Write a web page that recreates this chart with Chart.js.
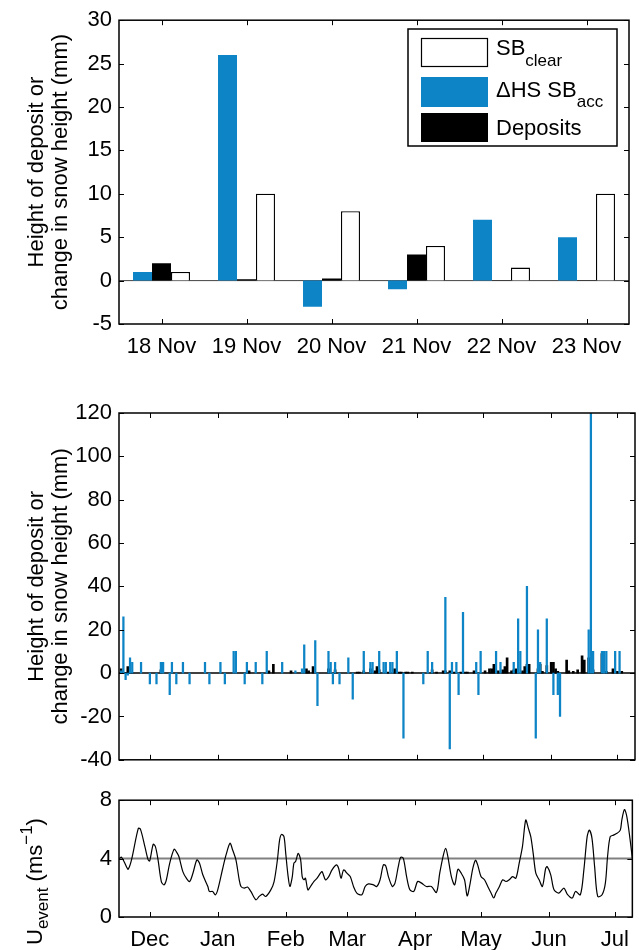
<!DOCTYPE html>
<html>
<head>
<meta charset="utf-8">
<script src="https://cdn.jsdelivr.net/npm/chart.js@4.4.0/dist/chart.umd.min.js"></script>
<style>
  body { margin: 0; background: #fff; width: 639px; height: 950px; position: relative; overflow: hidden; }
  canvas { position: absolute; left: 0; }
</style>
</head>
<body>
<canvas id="daily" width="639" height="370" style="top:0"></canvas>
<canvas id="season" width="639" height="400" style="top:380px"></canvas>
<canvas id="wind" width="639" height="170" style="top:780px"></canvas>
<script>
// --- six-day comparison (mm)
const dayLabels = ["18 Nov", "19 Nov", "20 Nov", "21 Nov", "22 Nov", "23 Nov"];
const accDaily = [1, 26, -3, -1, 7, 5];
const depDaily = [2, 0.15, 0.25, 3, 0.05, 0.05];
const clearDaily = [1, 10, 8, 4, 1.5, 10];

// --- whole season, days counted from 17 Nov
const monthDays = [14, 45, 76, 104, 135, 165, 196, 226];
const monthNames = ["Dec", "Jan", "Feb", "Mar", "Apr", "May", "Jun", "Jul"];

const accDays = [1, 2, 3, 4, 5, 6, 10, 14, 17, 19, 20, 23, 24, 26, 29, 32, 39, 41, 46, 48,
  52, 53, 57, 58, 62, 65, 67, 74, 80, 83, 84, 89, 90, 95, 96, 97, 98, 100, 104, 106,
  111, 114, 115, 118, 120, 121, 123, 124, 126, 129, 138, 140, 142, 148, 150, 151, 153, 154, 156, 162,
  163, 164, 171, 173, 179, 181, 182, 185, 189, 190, 191, 194, 197, 199, 200, 213, 214, 215, 219, 220,
  221, 225, 227];
const accValues = [1, 26, -3, -1, 7, 5, 5, -5, -5, 5, 5, -10, 5, -5, 5, -5, 5, -5, 5, -5,
  10, 10, -5, 5, 5, -5, 10, 5, 1, 2, 13, 15, -15, 10, 5, -5, 5, -5, 7, -12,
  10, 5, 5, 10, 5, 5, 5, 5, 10, -30, -5, 10, 5, 35, -35, 5, 5, -10, 28, 5,
  -10, 10, 10, 5, 5, 25, 10, 40, -30, 20, 5, 25, -10, -10, -20, 20, 120, 10, 10, 10,
  10, 10, 10];

const depDays = [1, 2, 3, 4, 5, 6, 19, 59, 68, 70, 78, 85, 86, 88, 95, 98, 108, 109, 111, 114,
  116, 117, 118, 122, 125, 127, 128, 130, 131, 133, 142, 144, 147, 148, 150, 152, 155, 157, 158, 161,
  166, 168, 169, 170, 172, 174, 175, 176, 178, 179, 180, 183, 184, 185, 186, 190, 191, 192, 194, 196,
  197, 198, 199, 203, 204, 206, 208, 210, 211, 213, 214, 215, 219, 221, 224, 226, 228];
const depValues = [2, 0.15, 0.25, 3, 0.1, 0.1, 1.5, 1, 1, 4, 1, 2, 1, 3, 2, 1.5, 0.5, 0.5, 1, 2,
  1, 3, 1.5, 0.5, 2, 0.5, 0.5, 0.5, 0.5, 0.5, 1.5, 0.5, 1, 1, 1, 0.5, 0.5, 0.5, 0.5, 1,
  1, 2, 2, 4, 1, 1.5, 3, 7, 1, 1.5, 2, 1, 3, 4, 4, 2, 4, 0.8, 3.5, 5,
  5, 2, 0.8, 6, 1, 0.8, 1.5, 8, 6, 7, 6, 1.5, 9, 0.8, 2, 0.8, 0.8];

// --- event wind speed (m/s)
const windDays = [0, 1.2, 3.5, 4.2, 5.7, 8.8, 9.8, 11.8, 13.3, 14.0, 15.6, 16.6, 17.8, 19.3, 20.5, 21.6,
  23.1, 25.1, 26.1, 27.3, 29.1, 30.7, 32.2, 33.7, 35.5, 36.7, 38.2, 40.5, 41.2, 42.7, 43.9, 45.0,
  47.3, 48.8, 50.6, 51.8, 53.3, 54.8, 55.6, 57.1, 58.6, 60.1, 62.4, 63.9, 65.4, 66.9, 69.2, 70.7,
  72.2, 73.2, 74.1, 75.2, 76.0, 77.0, 77.9, 79.0, 79.7, 80.5, 81.7, 82.8, 83.5, 84.3, 85.0, 86.1,
  87.3, 88.8, 90.3, 91.8, 92.6, 94.1, 95.6, 97.1, 99.1, 100.1, 101.2, 102.4, 103.9, 105.4, 106.9, 108.4,
  110.7, 112.2, 113.7, 116.0, 117.5, 119.0, 120.5, 121.6, 122.8, 124.6, 125.8, 127.3, 128.4, 129.6, 131.1, 132.6,
  134.4, 136.1, 137.9, 140.1, 142.4, 144.7, 146.2, 147.7, 148.9, 149.9, 151.5, 153.0, 154.5, 156.0, 157.5, 158.7,
  159.8, 161.3, 162.5, 163.5, 165.0, 166.6, 168.1, 169.6, 170.8, 171.8, 173.4, 174.9, 176.4, 177.9, 179.4, 180.9,
  182.4, 183.9, 185.4, 186.6, 187.7, 188.8, 190.0, 191.5, 193.0, 194.5, 195.2, 196.8, 198.3, 200.5, 202.8, 204.3,
  206.6, 208.1, 210.3, 211.9, 213.4, 214.4, 215.6, 216.8, 218.2, 220.2, 221.7, 222.7, 223.9, 225.4, 227.0, 228.5,
  229.2, 230.4, 231.5, 233.0, 234.0];
const windSpeed = [3.98, 4.09, 3.41, 3.27, 3.91, 6.07, 6.0, 4.82, 3.91, 3.84, 4.98, 4.82, 3.91, 2.43, 2.2, 2.55,
  3.68, 4.64, 4.48, 4.14, 3.11, 2.66, 2.43, 3.0, 3.91, 3.68, 2.89, 2.09, 1.75, 1.75, 1.52, 1.86,
  3.34, 4.25, 5.05, 4.59, 3.91, 2.55, 2.09, 1.98, 2.05, 1.75, 1.18, 1.41, 1.57, 1.41, 1.86, 2.43,
  3.91, 5.27, 5.66, 5.5, 4.36, 2.89, 2.09, 2.77, 3.68, 3.8, 4.36, 3.91, 2.77, 2.55, 2.66, 1.86,
  2.09, 2.43, 2.66, 3.0, 3.11, 2.55, 2.77, 3.23, 3.57, 3.34, 2.66, 3.23, 3.0, 2.77, 2.09, 1.64,
  1.52, 2.09, 2.27, 2.2, 2.09, 2.55, 3.57, 3.5, 2.77, 2.09, 2.32, 3.45, 4.09, 4.02, 2.77, 1.86,
  1.75, 2.43, 2.32, 2.09, 2.09, 1.68, 3.0, 4.14, 4.7, 4.14, 2.77, 2.2, 3.27, 3.0, 2.55, 1.45,
  2.09, 3.34, 3.89, 3.57, 2.77, 2.55, 2.09, 1.64, 1.3, 1.64, 2.09, 2.55, 2.43, 2.55, 2.77, 2.66,
  3.68, 4.82, 6.64, 6.07, 5.5, 4.36, 3.0, 2.55, 2.09, 3.34, 3.45, 2.89, 1.86, 1.64, 1.98, 1.57,
  1.3, 1.75, 1.52, 3.23, 5.5, 5.95, 5.39, 3.45, 1.41, 1.52, 2.32, 4.14, 5.5, 5.61, 5.73, 5.95,
  6.64, 7.36, 6.86, 5.27, 4.02];
const windMean = 4;

const BLUE = "#0c84c6";
const FONT = '"Liberation Sans", Arial, Helvetica, sans-serif';
Chart.defaults.font.family = FONT;
Chart.defaults.font.size = 22;
Chart.defaults.color = "#000";

// write a run of text pieces, each with its own size and vertical shift
function richText(ctx, x, y, parts) {
  parts.forEach(p => {
    ctx.font = p.size + "px " + FONT;
    ctx.fillText(p.t, x, y + (p.dy || 0));
    x += ctx.measureText(p.t).width;
  });
}

// MATLAB-style box: frame plus inward ticks on all four sides
const boxAxes = {
  id: "boxAxes",
  afterDatasetsDraw(chart) {
    const { ctx, chartArea: a, scales } = chart;
    ctx.save();
    ctx.strokeStyle = "#000";
    ctx.lineWidth = 1;
    ctx.beginPath();
    scales.y.ticks.forEach((t, i) => {
      const p = Math.round(scales.y.getPixelForTick(i)) + 0.5;
      ctx.moveTo(a.left, p); ctx.lineTo(a.left + 5, p);
      ctx.moveTo(a.right, p); ctx.lineTo(a.right - 5, p);
    });
    scales.x.ticks.forEach((t, i) => {
      const p = Math.round(scales.x.getPixelForTick(i)) + 0.5;
      ctx.moveTo(p, a.bottom); ctx.lineTo(p, a.bottom - 5);
      ctx.moveTo(p, a.top); ctx.lineTo(p, a.top + 5);
    });
    ctx.stroke();
    ctx.lineWidth = 1.5;
    ctx.strokeRect(a.left, a.top, a.right - a.left, a.bottom - a.top);
    ctx.restore();
  }
};

// horizontal reference line (zero line, mean wind)
const refLine = {
  id: "refLine",
  beforeDatasetsDraw(chart, args, opts) {
    const { ctx, chartArea: a, scales } = chart;
    const y = scales.y.getPixelForValue(opts.value);
    ctx.save();
    ctx.strokeStyle = opts.color;
    ctx.lineWidth = opts.width;
    ctx.beginPath();
    ctx.moveTo(a.left, y); ctx.lineTo(a.right, y);
    ctx.stroke();
    ctx.restore();
  }
};

// boxed legend with subscripted entries
const keyBox = {
  id: "keyBox",
  afterDraw(chart, args, opts) {
    const { ctx } = chart;
    const b = opts.box;
    ctx.save();
    ctx.fillStyle = "#fff";
    ctx.fillRect(b[0], b[1], b[2], b[3]);
    ctx.strokeStyle = "#000";
    ctx.lineWidth = 1.5;
    ctx.strokeRect(b[0], b[1], b[2], b[3]);
    opts.rows.forEach(r => {
      const s = r.swatch;
      ctx.fillStyle = r.fill;
      ctx.fillRect(s[0], s[1], s[2], s[3]);
      if (r.stroke) {
        ctx.strokeStyle = r.stroke;
        ctx.lineWidth = 1.2;
        ctx.strokeRect(s[0] + 0.5, s[1] + 0.5, s[2] - 1, s[3] - 1);
      }
      ctx.fillStyle = "#000";
      ctx.textBaseline = "alphabetic";
      richText(ctx, opts.textX, r.baseline, r.text);
    });
    ctx.restore();
  }
};

// rotated y label with sub- and superscript
const windLabel = {
  id: "windLabel",
  afterDraw(chart) {
    const { ctx } = chart;
    ctx.save();
    ctx.translate(42, 165);
    ctx.rotate(-Math.PI / 2);
    ctx.fillStyle = "#000";
    ctx.textBaseline = "alphabetic";
    richText(ctx, 0, 0, [
      { t: "U", size: 22 },
      { t: "event", size: 17, dy: 6 },
      { t: " (ms", size: 22 },
      { t: "\u22121", size: 17, dy: -10 },
      { t: ")", size: 22 }
    ]);
    ctx.restore();
  }
};

const yTitle = {
  display: true,
  text: ["Height of deposit or", "change in snow height (mm)"],
  font: { size: 22, lineHeight: 1.1 },
  padding: { top: 25, bottom: 0 }
};
const noGrid = { display: false, drawTicks: false };

new Chart(document.getElementById("daily"), {
  type: "bar",
  data: {
    labels: dayLabels,
    datasets: [
      { label: "ΔHS SBacc", data: accDaily, backgroundColor: BLUE, borderWidth: 0 },
      { label: "Deposits", data: depDaily, backgroundColor: "#000", borderWidth: 0 },
      { label: "SBclear", data: clearDaily, backgroundColor: "#fff", borderColor: "#000", borderWidth: 1.3 }
    ]
  },
  options: {
    responsive: false,
    animation: false,
    devicePixelRatio: 1,
    layout: { padding: { top: 17, right: 10, left: 0, bottom: 0 } },
    datasets: { bar: { categoryPercentage: 0.67, barPercentage: 1 } },
    plugins: {
      legend: { display: false },
      tooltip: { enabled: false },
      refLine: { value: 0, color: "#444", width: 1 },
      keyBox: {
        box: [408, 29, 209, 117],
        textX: 496,
        rows: [
          { swatch: [421, 38, 67, 29], fill: "#fff", stroke: "#000", baseline: 55,
            text: [{ t: "SB", size: 22 }, { t: "clear", size: 17, dy: 11 }] },
          { swatch: [421, 77, 67, 30], fill: BLUE, baseline: 97,
            text: [{ t: "ΔHS SB", size: 22 }, { t: "acc", size: 17, dy: 10 }] },
          { swatch: [421, 113, 67, 29], fill: "#000", baseline: 135,
            text: [{ t: "Deposits", size: 22 }] }
        ]
      }
    },
    scales: {
      x: {
        grid: noGrid, border: { display: false },
        ticks: { padding: 10, font: { size: 22 }, maxRotation: 0 },
        afterFit(s) { s.height = 46; }
      },
      y: {
        min: -5, max: 30,
        grid: noGrid, border: { display: false },
        ticks: { stepSize: 5, padding: 7, font: { size: 22 } },
        title: yTitle,
        afterFit(s) { s.width = 119; }
      }
    }
  },
  plugins: [refLine, boxAxes, keyBox]
});

const monthAxis = (showLabels, height) => ({
  type: "linear",
  min: 0, max: 234,
  offset: false,
  grid: noGrid, border: { display: false },
  afterBuildTicks(s) { s.ticks = monthDays.map(v => ({ value: v })); },
  ticks: {
    display: showLabels, autoSkip: false, maxRotation: 0, padding: 10,
    font: { size: 22 },
    callback: (v, i) => monthNames[i]
  },
  afterFit(s) { s.height = height; }
});

new Chart(document.getElementById("season"), {
  type: "bar",
  data: {
    datasets: [
      { label: "ΔHS SBacc", data: accDays.map((d, i) => ({ x: d, y: accValues[i] })),
        backgroundColor: BLUE, barThickness: 1.6, grouped: false },
      { label: "Deposits", data: depDays.map((d, i) => ({ x: d, y: depValues[i] })),
        backgroundColor: "#000", barThickness: 2, grouped: false }
    ]
  },
  options: {
    responsive: false,
    animation: false,
    devicePixelRatio: 1,
    layout: { padding: { top: 33, right: 4, left: 0, bottom: 0 } },
    plugins: {
      legend: { display: false },
      tooltip: { enabled: false },
      refLine: { value: 0, color: "#000", width: 1.5 },
      keyBox: {
        box: [131, 424, 212, 79],
        textX: 219,
        rows: [
          { swatch: [144, 433, 69, 31], fill: BLUE, baseline: 453,
            text: [{ t: "ΔHS SB", size: 22 }, { t: "acc", size: 17, dy: 11 }] },
          { swatch: [144, 469, 69, 30], fill: "#000", baseline: 492,
            text: [{ t: "Deposits", size: 22 }] }
        ]
      }
    },
    scales: {
      x: monthAxis(false, 15),
      y: {
        min: -40, max: 120,
        grid: noGrid, border: { display: false },
        ticks: { stepSize: 20, padding: 7, font: { size: 22 } },
        title: yTitle,
        afterFit(s) { s.width = 119; }
      }
    }
  },
  plugins: [refLine, boxAxes, keyBox]
});

new Chart(document.getElementById("wind"), {
  type: "line",
  data: {
    datasets: [
      { label: "Uevent", data: windDays.map((d, i) => ({ x: d, y: windSpeed[i] })),
        borderColor: "#000", borderWidth: 1.2, pointRadius: 0, tension: 0.3 }
    ]
  },
  options: {
    responsive: false,
    animation: false,
    devicePixelRatio: 1,
    layout: { padding: { top: 20, right: 4, left: 0, bottom: 0 } },
    plugins: {
      legend: { display: false },
      tooltip: { enabled: false },
      refLine: { value: windMean, color: "#808080", width: 2 }
    },
    scales: {
      x: monthAxis(true, 33),
      y: {
        min: 0, max: 8,
        grid: noGrid, border: { display: false },
        ticks: { stepSize: 2, padding: 7, font: { size: 22 } },
        afterFit(s) { s.width = 119; }
      }
    }
  },
  plugins: [refLine, boxAxes, windLabel]
});
</script>
</body>
</html>
